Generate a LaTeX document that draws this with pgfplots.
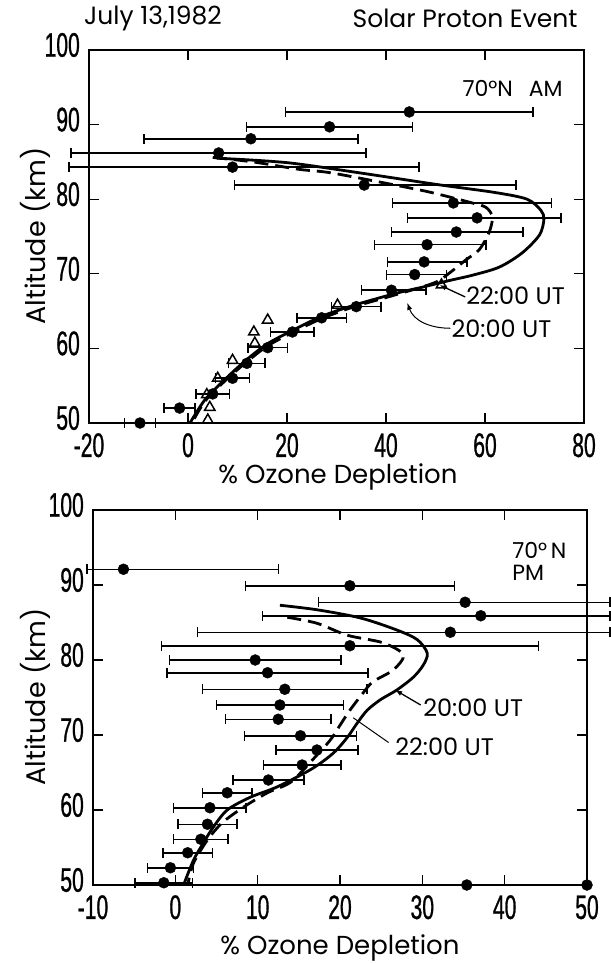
\documentclass[border=0pt]{standalone}
\usepackage{pgfplots}
\pgfplotsset{compat=1.18}
\usepackage{fontspec}
\setmainfont{Poppins}
\newfontfamily\tickfont[FakeStretch=0.62, FakeBold=0.8]{Liberation Sans}
\usetikzlibrary{arrows.meta}
\newcommand\fs[1]{\fontsize{#1}{#1}\selectfont}
\pgfplotsset{panel/.style={scale only axis, clip=false,
  axis line style={line width=1.5pt},
  tick style={line width=1.3pt, black},
  tick align=inside, major tick length=10pt,
  xtick pos=both, ytick pos=both, xticklabel pos=lower, yticklabel pos=left,
  ticklabel style={font=\tickfont\fs{34}, inner sep=1pt},
  xticklabel style={yshift=-9pt},
  yticklabel style={xshift=-8pt, yshift=5pt},
  /pgf/number format/assume math mode=true,
  xticklabel={\pgfmathprintnumber{\tick}},
  yticklabel={\pgfmathprintnumber{\tick}},
  ymin=50, ymax=100, ytick={50,60,...,100}},
  obs/.style={black, only marks, mark=*, mark size=5.5pt,
  error bars/.cd, x dir=both, x explicit,
  error bar style={line width=1.5pt},
  error mark options={rotate=90, mark size=5pt, line width=1.5pt}},
  solidc/.style={black, line width=2.8pt, no marks, smooth, tension=0.5},
  dashc/.style={black, line width=2.8pt, no marks, smooth, tension=0.5, dash pattern=on 14pt off 7pt}
}
\begin{document}
\begin{tikzpicture}[x=1pt,y=1pt]
\useasboundingbox (0,0) rectangle (610,-963);
\node[font=\fs{25}] at (153,-18) {July 13,1982};
\node[font=\fs{25}] at (465,-18) {Solar Proton Event};
\node[font=\fs{27}, rotate=90] at (35,-236) {Altitude (km)};
\node[font=\fs{26}] at (338,-477) {\% Ozone Depletion};
\node[font=\fs{27}, rotate=90] at (35,-697) {Altitude (km)};
\node[font=\fs{26}] at (340,-948) {\% Ozone Depletion};
% ---------------- top panel
\begin{axis}[panel, at={(89pt,-423pt)}, anchor=south west,
  width=495pt, height=373pt, xmin=-20, xmax=80, xtick={-20,0,...,80}]
\addplot[solidc] coordinates {(5.8,85.5) (20,84.9) (35,83.5) (50,82.0) (62,80.9) (68.5,80.0) (71.3,78.5) (71.9,77.3) (71,75.2) (67.5,72.8) (62.9,70.9) (57.4,69.8) (52.8,69.1) (47.3,68.2) (42.1,67.4) (33.6,65.8) (27,64.3) (21.1,62.4) (16,60.6) (11.5,58.3) (7.4,55.8) (3.4,53.1) (0.4,50)};
\addplot[dashc] coordinates {(5,85.6) (13.1,85.0) (22.5,84.0) (29.2,83.5) (44.1,81.6) (49.8,80.8) (57.4,79.5) (60.2,78.9) (61.5,77.6) (60.8,75.5) (58.8,73.2) (56.2,71.9) (52.8,70.1) (49.8,68.8) (42,67.2) (33.6,65.6) (27,64.0) (21,62.1) (16,60.3) (11.5,58.0) (7.4,55.6) (3.4,52.9) (0.8,50)};
\addplot[obs] coordinates {
(44.7,91.7) +- (25,0)
(28.6,89.7) +- (16.8,0)
(12.7,88.1) +- (21.6,0)
(6.2,86.2) +- (29.8,0)
(9.0,84.3) += (37.7,0) -= (33,0)
(35.6,81.9) += (30.7,0) -= (26.2,0)
(53.6,79.5) += (19.8,0) -= (12.3,0)
(58.4,77.5) += (17,0) -= (14.1,0)
(54.2,75.6) += (13.5,0) -= (13.1,0)
(48.3,73.9) += (11.9,0) -= (10.6,0)
(47.7,71.6) += (8.7,0) -= (7.4,0)
(45.8,69.9) += (6.4,0) -= (5.7,0)
(41.1,67.8) += (7,0) -= (6.1,0)
(34.0,65.6) +- (5,0)
(27.0,64.1) +- (5,0)
(21.1,62.2) +- (4.4,0)
(16.1,60.1) +- (4,0)
(11.9,58.0) +- (3.7,0)
(9.0,56.0) +- (3.4,0)
(5.0,53.9) +- (3.4,0)
(-1.7,52.0) +- (3.1,0)
(-9.7,50.0) +- (3.1,0)
};
\addplot[black, only marks, mark=triangle, mark size=6pt, mark options={line width=1.5pt, fill=white}] coordinates {
(16.1,63.8) (13.3,62.2) (13.5,60.7) (9.0,58.4) (6.0,56.0) (3.8,53.8) (4.4,52.1) (4.0,50.4) (30.2,65.8) (51.2,68.5)};
\node[anchor=east, font=\fs{22}] at (axis cs:76.4,94.9) {70°N\hspace{16pt}AM};
\node[anchor=west, font=\fs{24}, inner sep=0pt] at (axis cs:56.2,67.0) {22:00 UT};
\node[anchor=west, font=\fs{24}, inner sep=0pt] at (axis cs:53.2,62.6) {20:00 UT};
\draw[line width=1.3pt, -{Latex[length=7pt]}] (axis cs:56.0,66.9) -- (axis cs:50.8,68.5);
\draw[line width=1pt, -{Latex[length=7pt]}] (axis cs:53.0,62.7) to[out=180,in=-70] (axis cs:44.3,66.1);
\end{axis}
% ---------------- bottom panel
\begin{axis}[panel, at={(93pt,-885pt)}, anchor=south west,
  width=494pt, height=375pt, xmin=-10, xmax=50, xtick={-10,0,...,50}]
\addplot[solidc] coordinates {(12.7,87.3) (17.2,86.7) (22.5,85.6) (26.9,84.0) (29.4,82.7) (30.6,80.9) (30.1,79.3) (28.9,77.7) (26.9,76.0) (24.9,74.7) (23.3,73.3) (22.1,71.6) (20.9,69.7) (19.2,67.6) (16.6,65.5) (12.4,63.1) (9.1,61.7) (6.3,60) (4.6,57.7) (3.4,55.6) (2.2,53.3) (1.0,50)};
\addplot[dashc] coordinates {(13.6,85.7) (17.2,84.9) (20.9,83.3) (25.2,82.3) (27.7,80.7) (26.5,78.7) (24.0,77.1) (22.8,75.6) (21.2,73.3) (20.0,71.3) (18.8,69.3) (16.5,66.5) (14.0,63.7) (11.2,62.3) (8.3,60.4) (5.7,58.3) (3.9,56.0) (2.2,52.9) (1.5,50)};
\addplot[obs] coordinates {
(-6.3,92.1) += (18.8,0) -= (4.4,0)
(21.2,89.9) +- (12.7,0)
(35.2,87.7) += (17.6,0) -= (17.8,0)
(37.1,85.9) += (15.7,0) -= (26.5,0)
(33.4,83.7) += (19.4,0) -= (30.7,0)
(21.2,81.9) +- (22.9,0)
(9.7,80.0) +- (10.4,0)
(11.2,78.3) +- (12.2,0)
(13.3,76.1) +- (10,0)
(12.7,74.0) +- (7.7,0)
(12.5,72.1) +- (6.4,0)
(15.2,69.9) +- (6.8,0)
(17.2,68.0) +- (5,0)
(15.4,66.0) +- (4.7,0)
(11.3,64.0) +- (4.3,0)
(6.3,62.3) +- (3,0)
(4.2,60.3) +- (4.4,0)
(3.9,58.1) +- (3.6,0)
(3.1,56.1) +- (3.3,0)
(1.5,54.3) +- (3,0)
(-0.6,52.3) +- (2.8,0)
(-1.4,50.3) +- (3.5,0)
};
\addplot[black, only marks, mark=*, mark size=5.5pt] coordinates {(35.4,50) (50,50)};
\node[anchor=west, align=left, font=\fs{22}, inner sep=0pt] at (axis cs:40.9,93.2) {70°\,N\\PM};
\node[anchor=west, font=\fs{24}, inner sep=0pt] at (axis cs:30.1,73.7) {20:00 UT};
\node[anchor=west, font=\fs{24}, inner sep=0pt] at (axis cs:26.7,68.4) {22:00 UT};
\draw[line width=1.3pt, -{Latex[length=7pt]}] (axis cs:29.8,74.0) -- (axis cs:26.7,76.0);
\draw[line width=1pt] (axis cs:25.9,69.0) -- (axis cs:21.6,72.3);
\end{axis}
\end{tikzpicture}
\end{document}
